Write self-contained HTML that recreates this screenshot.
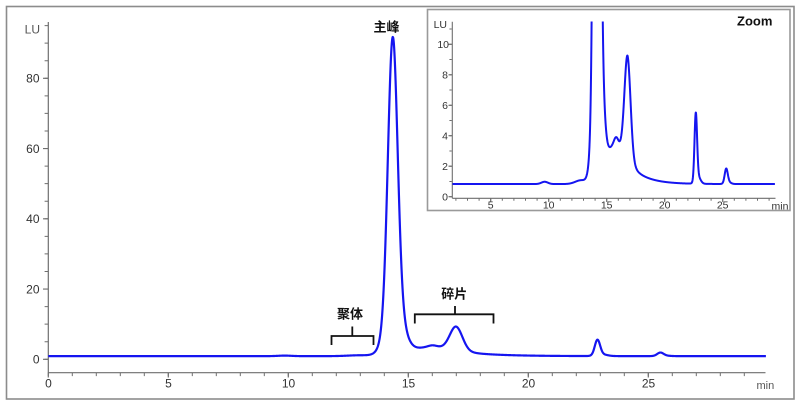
<!DOCTYPE html>
<html>
<head>
<meta charset="utf-8">
<style>
  html,body{margin:0;padding:0;background:#fff;}
  body{width:800px;height:406px;overflow:hidden;}
  svg{display:block;}
  .t{font-family:"Liberation Sans","Noto Sans CJK SC",sans-serif;fill:#333;}
</style>
</head>
<body>
<svg id="chart" width="800" height="406" viewBox="0 0 800 406" xmlns="http://www.w3.org/2000/svg">
  <defs>
    <clipPath id="mainClip"><rect x="48" y="15" width="720" height="357"/></clipPath>
    <clipPath id="insetClip"><rect x="452.5" y="21.5" width="324" height="176"/></clipPath>
  </defs>
  <rect x="0" y="0" width="800" height="406" fill="#fff"/>
  <!-- outer border -->
  <rect x="6.5" y="6.5" width="787.5" height="392.5" fill="none" stroke="#8c8c8c" stroke-width="1.6"/>

  <!-- ===== MAIN AXES ===== -->
  <g stroke="#6e6e6e" stroke-width="1.2" fill="none">
    <line x1="48.3" y1="22" x2="48.3" y2="373"/>
    <line x1="48.3" y1="372.7" x2="765.5" y2="372.7"/>
    <path d="M43,359.3H48.3M43,289.05H48.3M43,218.8H48.3M43,148.55H48.3M43,78.3H48.3"/>
    <path d="M48.3,372.7V377.5M168.3,372.7V377.5M288.3,372.7V377.5M408.3,372.7V377.5M528.3,372.7V377.5M648.3,372.7V377.5"/>
  </g>
  <line x1="46.3" y1="359.8" x2="46.3" y2="24" stroke="#6e6e6e" stroke-width="3.4" stroke-dasharray="1 16.5625"/>
  <line x1="47.8" y1="374.4" x2="765" y2="374.4" stroke="#6e6e6e" stroke-width="3.4" stroke-dasharray="1 23"/>

  <g class="t" font-size="12" text-anchor="end">
    <text x="39.5" y="363.5">0</text>
    <text x="39.5" y="293.3">20</text>
    <text x="39.5" y="223">40</text>
    <text x="39.5" y="152.8">60</text>
    <text x="39.5" y="82.5">80</text>
  </g>
  <text class="t" x="40" y="33.5" font-size="12" text-anchor="end" style="fill:#555">LU</text>
  <g class="t" font-size="12" text-anchor="middle">
    <text x="48.5" y="387.5">0</text>
    <text x="168.5" y="387.5">5</text>
    <text x="288.5" y="387.5">10</text>
    <text x="408.5" y="387.5">15</text>
    <text x="528.5" y="387.5">20</text>
    <text x="648.5" y="387.5">25</text>
  </g>
  <text class="t" x="756.5" y="389" font-size="11" style="fill:#555">min</text>

  <path id="mainCurve" d="" fill="none" stroke="#1515f0" stroke-width="2.2" stroke-linejoin="round" clip-path="url(#mainClip)"/>

  <text class="t" x="386.5" y="31.5" font-size="13" font-weight="bold" text-anchor="middle" style="fill:#111">主峰</text>
  <text class="t" x="350" y="318.5" font-size="13" font-weight="bold" text-anchor="middle" style="fill:#111">聚体</text>
  <text class="t" x="454.2" y="298.5" font-size="13" font-weight="bold" text-anchor="middle" style="fill:#111">碎片</text>
  <g stroke="#111" stroke-width="1.8" fill="none">
    <path d="M331.5,345V336H373.5V345"/>
    <path d="M352.3,336V326.5"/>
    <path d="M414.8,323.5V314.3H493.5V323.5"/>
    <path d="M455,314.3V306"/>
  </g>

  <!-- ===== INSET ===== -->
  <rect x="427.5" y="9.5" width="362.5" height="201" fill="#fff" stroke="#9a9a9a" stroke-width="1.6"/>
  <g stroke="#6e6e6e" stroke-width="1.1" fill="none">
    <line x1="452.3" y1="21.7" x2="452.3" y2="198.3"/>
    <line x1="452.3" y1="198.3" x2="775.5" y2="198.3"/>
    <path d="M448.5,196.7H452.3M448.5,166.2H452.3M448.5,135.7H452.3M448.5,105.3H452.3M448.5,74.8H452.3M448.5,44.3H452.3"/>
    <path d="M490.7,198.3V202M548.7,198.3V202M606.7,198.3V202M664.7,198.3V202M722.7,198.3V202"/>
  </g>
  <line x1="450.6" y1="197.2" x2="450.6" y2="22" stroke="#6e6e6e" stroke-width="2.4" stroke-dasharray="1 14.24"/>
  <line x1="455.4" y1="199.5" x2="775" y2="199.5" stroke="#6e6e6e" stroke-width="2.4" stroke-dasharray="1 10.6"/>

  <g class="t" font-size="10.5" text-anchor="end">
    <text x="448" y="200.5">0</text>
    <text x="448" y="170">2</text>
    <text x="448" y="139.5">4</text>
    <text x="448" y="109.1">6</text>
    <text x="448" y="78.6">8</text>
    <text x="449" y="48.1">10</text>
  </g>
  <text class="t" x="447" y="28" font-size="10.5" text-anchor="end">LU</text>
  <g class="t" font-size="10.5" text-anchor="middle">
    <text x="490.7" y="208.5">5</text>
    <text x="548.7" y="208.5">10</text>
    <text x="606.7" y="208.5">15</text>
    <text x="664.7" y="208.5">20</text>
    <text x="722.7" y="208.5">25</text>
  </g>
  <text class="t" x="771.5" y="209.5" font-size="10.5">min</text>
  <text class="t" x="737" y="25.7" font-size="13" font-weight="bold" style="fill:#111">Zoom</text>

  <path id="insetCurve" d="" fill="none" stroke="#1515f0" stroke-width="2" stroke-linejoin="round" clip-path="url(#insetClip)"/>
</svg>
<script>
(function(){
  function G(t,c,s,a){var d=t-c;return a*Math.exp(-d*d/(2*s*s));}
  function f(t){
    var v=0.9;
    v+=G(t,9.85,0.28,0.15);
    v+=G(t,13.0,0.5,0.25);
    v+=G(t,14.35,0.2,76);
    v+=G(t,14.42,0.36,13);
    v+= t>=14.4 ? 2*Math.exp(-(t-14.4)/0.7) : G(t,14.4,0.2,2);
    v+=G(t,16.02,0.18,0.45);
    v+=G(t,17.0,0.26,6.1);
    v+=G(t,16.0,0.7,2.4);
    v+= t>=17.0 ? 1.4*Math.exp(-(t-17)/1.4) : G(t,17,0.35,1.4);
    v+=G(t,22.88,0.11,4.3)+G(t,23.05,0.22,0.5);
    v+=G(t,25.5,0.13,0.9)+G(t,25.65,0.22,0.15);
    return v;
  }
  var d=[],t;
  for(t=0;t<=29.9001;t+=0.01){
    var x=48.3+24*t, y=359.3-3.5125*f(t);
    d.push((d.length?'L':'M')+x.toFixed(2)+','+y.toFixed(2));
  }
  document.getElementById('mainCurve').setAttribute('d',d.join(''));
  var e=[];
  for(t=1.69;t<=29.5001;t+=0.01){
    var x2=432.7+11.6*t, v2=f(t+0.2)-0.07;
    var y2=196.7-15.24*v2;
    if(y2<15) y2=15;
    e.push((e.length?'L':'M')+x2.toFixed(2)+','+y2.toFixed(2));
  }
  document.getElementById('insetCurve').setAttribute('d',e.join(''));
})();
</script>
</body>
</html>
